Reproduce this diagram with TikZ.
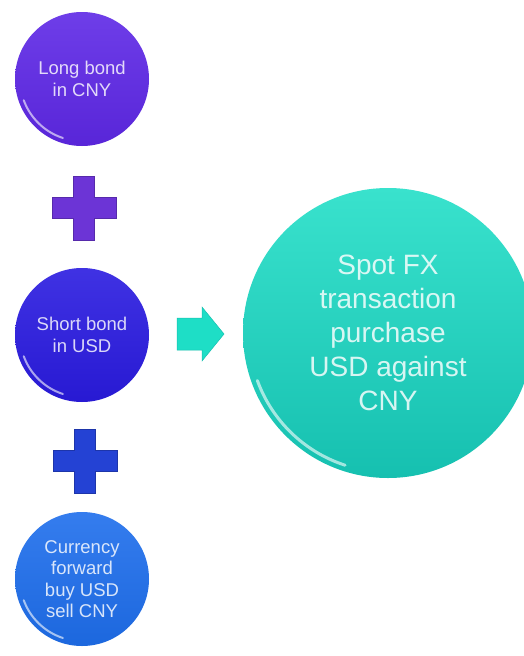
\documentclass[tikz,border=0pt]{standalone}
\usepackage{fontspec}
\setmainfont{Liberation Sans}
\definecolor{cA}{RGB}{94,40,230}
\definecolor{cB}{RGB}{42,27,224}
\definecolor{cC}{RGB}{30,110,236}
\definecolor{cT}{RGB}{30,222,198}
\definecolor{cTd}{RGB}{22,192,176}
\definecolor{pA}{RGB}{108,52,214}
\definecolor{pB}{RGB}{36,66,212}
\begin{document}
\begin{tikzpicture}[x=1pt,y=-1pt,
  ball/.style={circle, inner sep=0pt, align=center, text=white, text opacity=0.82,
     shading=axis, shading angle=0},
  smallball/.style={ball, minimum size=134pt, font=\fontsize{18.5}{21.5}\selectfont},
  bigball/.style={ball, minimum size=290pt, font=\fontsize{28}{34}\selectfont},
  gloss/.style={white, opacity=0.6, line width=2pt, line cap=round},
  plussign/.style={draw=#1!80!black, line width=0.6pt, fill=#1},
  blockarrow/.style={fill=cT, draw=cTd, line width=0.5pt}]
\useasboundingbox (0,0) rectangle (524,656);
\clip (0,0) rectangle (524,656);
\fill[white] (0,0) rectangle (524,656);

% circles
\node[smallball, top color=cA!90!white, bottom color=cA!94!black] (long) at (82,79) {Long bond\\in CNY};
\node[smallball, top color=cB!90!white, bottom color=cB!94!black] (short) at (82,335) {Short bond\\in USD};
\node[smallball, top color=cC!90!white, bottom color=cC!94!black] (fwd) at (82,579) {Currency\\forward\\buy USD\\sell CNY};
\node[bigball, top color=cT!88!white, bottom color=cTd] (spot) at (388,333) {Spot FX\\transaction\\purchase\\USD against\\CNY};

% gloss highlights (angles in the flipped frame: 155 = lower left, 105 = bottom)
\foreach \n in {long, short, fwd}{
  \draw[gloss] ([shift={(160:62)}]\n.center) arc[start angle=160, end angle=108, radius=62];
}
\draw[gloss, line width=3pt] ([shift={(160:139)}]spot.center) arc[start angle=160, end angle=108, radius=139];

% plus signs
\coordinate (plusA) at (84,208);
\coordinate (plusB) at (85,461);
\path[plussign=pA] ([shift={(-10.5,-32)}]plusA) -- ++(21,0) -- ++(0,21.5) -- ++(21.5,0) -- ++(0,21) -- ++(-21.5,0) -- ++(0,21.5) -- ++(-21,0) -- ++(0,-21.5) -- ++(-21.5,0) -- ++(0,-21) -- ++(21.5,0) -- cycle;
\path[plussign=pB] ([shift={(-10.5,-32)}]plusB) -- ++(21,0) -- ++(0,21.5) -- ++(21.5,0) -- ++(0,21) -- ++(-21.5,0) -- ++(0,21.5) -- ++(-21,0) -- ++(0,-21.5) -- ++(-21.5,0) -- ++(0,-21) -- ++(21.5,0) -- cycle;

% block arrow
\coordinate (arr) at (177,334);
\path[blockarrow] ([shift={(0,-16)}]arr) -- ++(25,0) -- ++(0,-11) -- ++(22,27) -- ++(-22,27) -- ++(0,-11) -- ++(-25,0) -- cycle;
\end{tikzpicture}
\end{document}
